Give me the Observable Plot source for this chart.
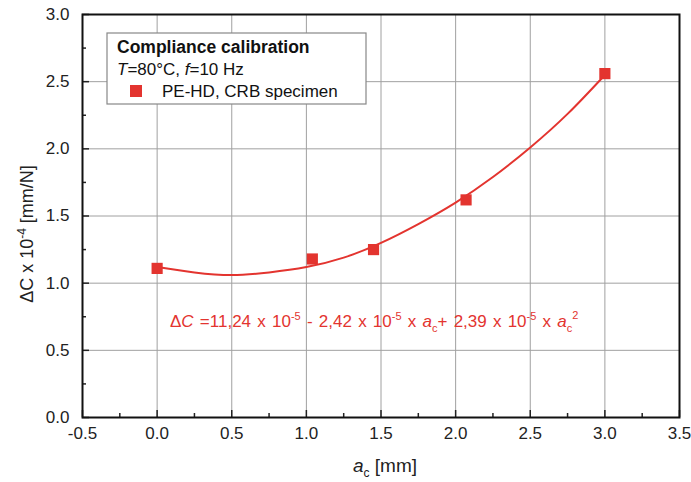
<!DOCTYPE html>
<html>
<head>
<meta charset="utf-8">
<script src="https://cdn.jsdelivr.net/npm/d3@7"></script>
<script src="https://cdn.jsdelivr.net/npm/@observablehq/plot@0.6"></script>
<style>
  body { margin: 0; background: #fff; }
  #chart { width: 691px; height: 482px; }
</style>
</head>
<body>
<div id="chart"></div>
<script>
// Measured points (a_c in mm, ΔC in 10^-4 mm/N)
const crackLength = [0.0, 1.04, 1.45, 2.07, 3.0];
const compliance = [1.11, 1.18, 1.25, 1.62, 2.56];
// Fit curve
const fitA = [0.0, 0.25, 0.5, 0.75, 1.0, 1.25, 1.5, 1.75, 2.0, 2.25, 2.5, 2.75, 3.0];
const fitC = [1.12, 1.08, 1.06, 1.08, 1.12, 1.19, 1.30, 1.44, 1.60, 1.79, 2.01, 2.26, 2.55];
// Ticks
const xTicks = [-0.5, 0.0, 0.5, 1.0, 1.5, 2.0, 2.5, 3.0, 3.5];
const xMinor = [-0.25, 0.25, 0.75, 1.25, 1.75, 2.25, 2.75, 3.25];
const yTicks = [0.0, 0.5, 1.0, 1.5, 2.0, 2.5, 3.0];
const yMinor = [0.25, 0.75, 1.25, 1.75, 2.25, 2.75];
const gridX = [0.0, 0.5, 1.0, 1.5, 2.0, 2.5, 3.0];
const gridY = [0.5, 1.0, 1.5, 2.0, 2.5];

const legendTitle = "Compliance calibration";
const seriesName = "PE-HD, CRB specimen";

const red = "#e3342f";
const points = crackLength.map((a, i) => ({a, c: compliance[i]}));
const fit = fitA.map((a, i) => ({a, c: fitC[i]}));
const fmt = d => d.toFixed(1);

const chart = Plot.plot({
  width: 691, height: 482,
  marginLeft: 82, marginRight: 12, marginTop: 14, marginBottom: 65,
  x: {domain: [-0.5, 3.5]},
  y: {domain: [0, 3]},
  style: {fontFamily: "'Liberation Sans', Arial, sans-serif", fontSize: "17px", color: "#222", background: "#fff"},
  marks: [
    Plot.gridX(gridX, {stroke: "#a0a0a0", strokeOpacity: 1, strokeWidth: 1}),
    Plot.gridY(gridY, {stroke: "#a0a0a0", strokeOpacity: 1, strokeWidth: 1}),
    Plot.axisX(xTicks, {tickSize: 0, tickPadding: 9, tickFormat: fmt, label: null, fontSize: 17}),
    Plot.axisX(xTicks, {tickSize: -7, tickFormat: () => "", label: null, strokeWidth: 1.5}),
    Plot.axisX(xMinor, {tickSize: -4, tickFormat: () => "", label: null, strokeWidth: 1.5}),
    Plot.axisY(yTicks, {tickSize: 0, tickPadding: 13, tickFormat: fmt, label: null, fontSize: 17}),
    Plot.axisY(yTicks, {tickSize: -7, tickFormat: () => "", label: null, strokeWidth: 1.5}),
    Plot.axisY(yMinor, {tickSize: -4, tickFormat: () => "", label: null, strokeWidth: 1.5}),
    Plot.line(fit, {x: "a", y: "c", curve: "natural", stroke: red, strokeWidth: 2}),
    Plot.dot(points, {x: "a", y: "c", symbol: "square", fill: red, r: 6.3}),
    Plot.frame({stroke: "#111", strokeWidth: 2})
  ]
});
document.getElementById("chart").append(chart);

const svg = d3.select(chart);
const font = "'Liberation Sans', Arial, sans-serif";

// Y axis label
const yl = svg.append("text")
  .attr("transform", "translate(33,234) rotate(-90)")
  .attr("text-anchor", "middle")
  .attr("font-family", font).attr("font-size", 18).attr("fill", "#222");
yl.append("tspan").text("ΔC x 10");
yl.append("tspan").attr("dy", -7).attr("font-size", 12).text("-4");
yl.append("tspan").attr("dy", 7).text(" [mm/N]");

// X axis label
const xl = svg.append("text")
  .attr("x", 385).attr("y", 472)
  .attr("text-anchor", "middle")
  .attr("font-family", font).attr("font-size", 19).attr("fill", "#222");
xl.append("tspan").attr("font-style", "italic").text("a");
xl.append("tspan").attr("dy", 5).attr("font-size", 12).text("c");
xl.append("tspan").attr("dy", -5).text(" [mm]");

// Legend box
const lg = svg.append("g").attr("font-family", font).attr("font-size", 17).attr("fill", "#111").attr("text-anchor", "start");
lg.append("rect").attr("x", 107).attr("y", 33).attr("width", 259).attr("height", 71)
  .attr("fill", "#fff").attr("stroke", "#888").attr("stroke-width", 1.2);
lg.append("text").attr("x", 117).attr("y", 53).attr("font-weight", "bold").attr("font-size", 17.5).text(legendTitle);
const l2 = lg.append("text").attr("x", 117).attr("y", 75);
l2.append("tspan").attr("font-style", "italic").text("T");
l2.append("tspan").text("=80°C, ");
l2.append("tspan").attr("font-style", "italic").text("f");
l2.append("tspan").text("=10 Hz");
lg.append("rect").attr("x", 130).attr("y", 85).attr("width", 12).attr("height", 12).attr("fill", red);
lg.append("text").attr("x", 162).attr("y", 97).text(seriesName);

// Equation
const eq = svg.append("text").attr("x", 170).attr("y", 327).attr("text-anchor", "start")
  .attr("font-family", font).attr("font-size", 17).attr("word-spacing", 1.5).attr("fill", red);
eq.append("tspan").text("Δ");
eq.append("tspan").attr("font-style", "italic").text("C");
eq.append("tspan").text(" =11,24 x 10");
eq.append("tspan").attr("dy", -7).attr("font-size", 11).text("-5");
eq.append("tspan").attr("dy", 7).text(" - 2,42 x 10");
eq.append("tspan").attr("dy", -7).attr("font-size", 11).text("-5");
eq.append("tspan").attr("dy", 7).text(" x ");
eq.append("tspan").attr("font-style", "italic").text("a");
eq.append("tspan").attr("dy", 5).attr("font-size", 11).text("c");
eq.append("tspan").attr("dy", -5).text("+ 2,39 x 10");
eq.append("tspan").attr("dy", -7).attr("font-size", 11).text("-5");
eq.append("tspan").attr("dy", 7).text(" x ");
eq.append("tspan").attr("font-style", "italic").text("a");
eq.append("tspan").attr("dy", 5).attr("font-size", 11).text("c");
eq.append("tspan").attr("dy", -13).attr("font-size", 11).text("2");
</script>
</body>
</html>
